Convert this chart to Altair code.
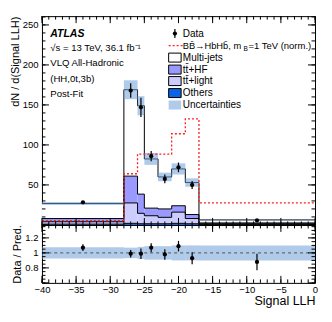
import altair as alt
import pandas as pd

# ---------------- data ----------------
edges = [-40, -28, -26, -25, -23, -21, -19, -17, 0]
others = [1.0, 2.0, 1.5, 1.5, 1.5, 2.0, 1.5, 0.4]
ttlight = [3.0, 25.5, 13.0, 10.0, 8.0, 14.0, 6.5, 1.1]
tthf = [4.0, 33.5, 24.0, 9.5, 10.5, 8.0, 5.0, 1.0]
multijet = [18.8, 108.0, 110.5, 61.5, 40.0, 46.0, 40.0, 3.8]
data_vals = [28.3, 168.0, 147.0, 86.0, 57.5, 72.0, 50.0, 5.7]
data_err = [1.5, 9.0, 12.0, 6.5, 5.5, 6.0, 5.0, 0.6]
signal = [5.4, 64.0, 88.5, 88.5, 88.5, 114.0, 132.5, 27.5]
ratio_vals = [1.07, 0.99, 0.99, 1.07, 0.98, 1.09, 0.93, 0.88]
ratio_err = [0.045, 0.05, 0.07, 0.06, 0.07, 0.07, 0.08, 0.11]
unc_rel = [0.075, 0.07, 0.08, 0.09, 0.09, 0.10, 0.10, 0.10]

x_major = list(range(-40, 1, 5))
x_minor = list(range(-40, 1, 1))
y_labels = [50, 100, 150, 200, 250]
y_major = list(range(0, 251, 50))
y_minor = list(range(0, 261, 10))
r_labels = [0.8, 1.0, 1.2]
r_major = [0.6, 0.8, 1.0, 1.2]
r_minor = [round(0.6 + 0.05 * i, 2) for i in range(16)]

comp_names = ["Others", "ttlight", "tthf", "Multi-jets"]
comp_colors = ["#0a64e6", "#ccccff", "#9999ff", "#ffffff"]

FONT = "Liberation Sans"
W = 273.3
H_MAIN = 209
H_RAT = 58
X_DOM = [-40, 0]
Y_MAIN = [0, 261]
Y_RAT = [0.6, 1.373]
BAND = "#6f9fd8"

lo = edges[:-1]
hi = edges[1:]
centers = [(a + b) / 2 for a, b in zip(lo, hi)]
nb = len(lo)

stack_rows, step_rows = [], []
base = [0.0] * nb
for name, vals in zip(comp_names, [others, ttlight, tthf, multijet]):
    tops = []
    for i in range(nb):
        stack_rows.append(dict(comp=name, lo=lo[i], hi=hi[i], y0=base[i], y1=base[i] + vals[i]))
        base[i] += vals[i]
        tops.append(base[i])
    for i, e in enumerate(edges):
        step_rows.append(dict(comp=name, x=e, y=tops[min(i, nb - 1)]))
total = base
stack_df = pd.DataFrame(stack_rows)
step_df = pd.DataFrame(step_rows)
band_df = pd.DataFrame(dict(lo=lo, hi=hi,
                            y0=[t * (1 - u) for t, u in zip(total, unc_rel)],
                            y1=[t * (1 + u) for t, u in zip(total, unc_rel)]))
sig_df = pd.DataFrame(dict(x=edges, y=signal + [signal[-1]]))
dat_df = pd.DataFrame(dict(x=centers, y=data_vals,
                           ylo=[v - e for v, e in zip(data_vals, data_err)],
                           yhi=[v + e for v, e in zip(data_vals, data_err)]))
rat_df = pd.DataFrame(dict(x=centers, y=ratio_vals,
                           ylo=[v - e for v, e in zip(ratio_vals, ratio_err)],
                           yhi=[v + e for v, e in zip(ratio_vals, ratio_err)]))
rband_df = pd.DataFrame(dict(lo=lo, hi=hi, y0=[1 - u for u in unc_rel], y1=[1 + u for u in unc_rel]))

xs = alt.Scale(domain=X_DOM, nice=False, zero=False)
ys = alt.Scale(domain=Y_MAIN, nice=False, zero=False)
yr = alt.Scale(domain=Y_RAT, nice=False, zero=False)
ONE = pd.DataFrame(dict(a=[0]))

AX_Y_MAIN = alt.Axis(values=y_labels, ticks=False, domain=False, grid=False, format="d",
                     title="dN / d(Signal LLH)", titleAnchor="end", titlePadding=2, labelPadding=4,
                     labelFont=FONT, labelFontSize=9.5, labelColor="black", titleFont=FONT,
                     titleFontSize=11, titleFontWeight="normal", titleColor="black")
AX_Y_RAT = alt.Axis(values=r_labels, ticks=False, domain=False, grid=False, format="~g",
                    title="Data / Pred.", titlePadding=2, labelPadding=4,
                    labelFont=FONT, labelFontSize=9.5, labelColor="black", titleFont=FONT,
                    titleFontSize=11, titleFontWeight="normal", titleColor="black")
AX_X_RAT = alt.Axis(values=x_major, ticks=False, domain=False, grid=False, format="d",
                    title="Signal LLH", titleAnchor="end", titlePadding=1, labelPadding=1.5,
                    labelFont=FONT, labelFontSize=9.5, labelColor="black", titleFont=FONT,
                    titleFontSize=12.5, titleFontWeight="normal", titleColor="black",
                    labelFlush=False)


def ticks(values, channel, side, size, scale, height, axis):
    """Inward ROOT-style ticks drawn through the chart's own scales."""
    df = pd.DataFrame(dict(v=values))
    m = alt.Chart(df).mark_rule(color="black", strokeWidth=1)
    if channel == "x":
        yv = height if side == "bottom" else 0
        y2v = height - size if side == "bottom" else size
        return m.encode(x=alt.X("v:Q", scale=scale, axis=axis), y=alt.value(yv), y2=alt.value(y2v))
    xv = 0 if side == "left" else W
    x2v = size if side == "left" else W - size
    return m.encode(y=alt.Y("v:Q", scale=scale, axis=axis), x=alt.value(xv), x2=alt.value(x2v))


def txt(px, py, t, size=9.6, align="left", **props):
    return alt.Chart(ONE).mark_text(align=align, baseline="middle", font=FONT, color="black",
                                    fontSize=size, x=px, y=py, text=t, **props)


# ---------------- main panel ----------------
fills = alt.Chart(stack_df).mark_rect(strokeWidth=0).encode(
    x=alt.X("lo:Q", scale=xs, axis=None), x2="hi:Q",
    y=alt.Y("y0:Q", scale=ys, axis=AX_Y_MAIN), y2="y1:Q",
    color=alt.Color("comp:N", scale=alt.Scale(domain=comp_names, range=comp_colors), legend=None))
outlines = alt.Chart(step_df).mark_line(interpolate="step-after", color="black", strokeWidth=1).encode(
    x=alt.X("x:Q", scale=xs, axis=None), y=alt.Y("y:Q", scale=ys, axis=AX_Y_MAIN), detail="comp:N")
band = alt.Chart(band_df).mark_rect(color=BAND, opacity=0.55, strokeWidth=0).encode(
    x=alt.X("lo:Q", scale=xs, axis=None), x2="hi:Q",
    y=alt.Y("y0:Q", scale=ys, axis=AX_Y_MAIN), y2="y1:Q")
sig = alt.Chart(sig_df).mark_line(interpolate="step-after", color="#ff2020", strokeWidth=1.3,
                                  strokeDash=[2, 2]).encode(
    x=alt.X("x:Q", scale=xs, axis=None), y=alt.Y("y:Q", scale=ys, axis=AX_Y_MAIN))
derr = alt.Chart(dat_df).mark_rule(color="black", strokeWidth=1.2).encode(
    x=alt.X("x:Q", scale=xs, axis=None), y=alt.Y("ylo:Q", scale=ys, axis=AX_Y_MAIN), y2="yhi:Q")
dpts = alt.Chart(dat_df).mark_point(filled=True, color="black", size=18, opacity=1, shape="circle").encode(
    x=alt.X("x:Q", scale=xs, axis=None), y=alt.Y("y:Q", scale=ys, axis=AX_Y_MAIN))

annot = [
    txt(8.3, 18, "ATLAS", 10.5, fontWeight="bold", fontStyle="italic"),
    txt(8.3, 32, "\u221as = 13 TeV, 36.1 fb\u207b\u00b9"),
    txt(8.3, 47, "VLQ All-Hadronic"),
    txt(8.3, 63, "(HH,0t,3b)"),
    txt(8.3, 78, "Post-Fit"),
]

LX0, LX1, LT = 126.8, 139.3, 141
RIGHT = 269.5
rows_y = [17.5, 29.5, 41.5, 53.5, 65, 77, 89]
legend = [
    txt(LT, rows_y[0], "Data", 10),
    txt(LT, rows_y[1], "BB\u0304\u2192HbHb\u0304, m", 9.3),
    txt(RIGHT - 63.5, rows_y[1] + 3, "B", 6.5, align="right"),
    txt(RIGHT, rows_y[1], "=1 TeV (norm.)", 9.5, align="right"),
    txt(LT, rows_y[2], "Multi-jets", 10),
    txt(LT, rows_y[3], "tt\u0304+HF", 10),
    txt(LT, rows_y[4], "tt\u0304+light", 10),
    txt(LT, rows_y[5], "Others", 10),
    txt(LT, rows_y[6], "Uncertainties", 10),
]
for r, col in zip(rows_y[2:6], ["#ffffff", "#9999ff", "#ccccff", "#0a64e6"]):
    legend.append(alt.Chart(ONE).mark_rect(x=LX0, x2=LX1, y=r - 4.5, y2=r + 4.5, fill=col,
                                           stroke="black", strokeWidth=1))
legend.append(alt.Chart(ONE).mark_rect(x=LX0, x2=LX1, y=rows_y[6] - 4.5, y2=rows_y[6] + 4.5,
                                       fill=BAND, opacity=0.55))
legend.append(alt.Chart(ONE).mark_rule(color="#ff2020", strokeWidth=1.3, strokeDash=[2, 2]).encode(
    x=alt.value(LX0), x2=alt.value(LX1 + 2), y=alt.value(rows_y[1])))
legend.append(alt.Chart(ONE).mark_rule(color="black", strokeWidth=1.2).encode(
    x=alt.value((LX0 + LX1) / 2), y=alt.value(rows_y[0] - 4.5), y2=alt.value(rows_y[0] + 4.5)))
legend.append(alt.Chart(ONE).mark_point(filled=True, color="black", size=18, opacity=1,
                                        x=(LX0 + LX1) / 2, y=rows_y[0]))

main_ticks = [
    ticks(y_major, "y", "left", 7, ys, H_MAIN, AX_Y_MAIN),
    ticks(y_minor, "y", "left", 3.5, ys, H_MAIN, AX_Y_MAIN),
    ticks(y_major, "y", "right", 7, ys, H_MAIN, AX_Y_MAIN),
    ticks(y_minor, "y", "right", 3.5, ys, H_MAIN, AX_Y_MAIN),
    ticks(x_major, "x", "bottom", 7, xs, H_MAIN, None),
    ticks(x_minor, "x", "bottom", 3.5, xs, H_MAIN, None),
    ticks(x_major, "x", "top", 7, xs, H_MAIN, None),
    ticks(x_minor, "x", "top", 3.5, xs, H_MAIN, None),
]

main = alt.layer(fills, outlines, band, sig, derr, dpts, *annot, *legend, *main_ticks).properties(
    width=W, height=H_MAIN)

# ---------------- ratio panel ----------------
rband = alt.Chart(rband_df).mark_rect(color=BAND, opacity=0.55, strokeWidth=0).encode(
    x=alt.X("lo:Q", scale=xs, axis=AX_X_RAT), x2="hi:Q",
    y=alt.Y("y0:Q", scale=yr, axis=AX_Y_RAT), y2="y1:Q")
one_df = pd.DataFrame(dict(y=[1.0]))
oneline = alt.Chart(one_df).mark_rule(color="#555555", strokeWidth=1, strokeDash=[3, 3]).encode(
    y=alt.Y("y:Q", scale=yr, axis=AX_Y_RAT))
rerr = alt.Chart(rat_df).mark_rule(color="black", strokeWidth=1.2).encode(
    x=alt.X("x:Q", scale=xs, axis=AX_X_RAT), y=alt.Y("ylo:Q", scale=yr, axis=AX_Y_RAT), y2="yhi:Q")
rpts = alt.Chart(rat_df).mark_point(filled=True, color="black", size=18, opacity=1).encode(
    x=alt.X("x:Q", scale=xs, axis=AX_X_RAT), y=alt.Y("y:Q", scale=yr, axis=AX_Y_RAT))

rat_ticks = [
    ticks(r_major, "y", "left", 7, yr, H_RAT, AX_Y_RAT),
    ticks(r_minor, "y", "left", 3.5, yr, H_RAT, AX_Y_RAT),
    ticks(r_major, "y", "right", 7, yr, H_RAT, AX_Y_RAT),
    ticks(r_minor, "y", "right", 3.5, yr, H_RAT, AX_Y_RAT),
    ticks(x_major, "x", "bottom", 7, xs, H_RAT, AX_X_RAT),
    ticks(x_minor, "x", "bottom", 3.5, xs, H_RAT, AX_X_RAT),
    ticks(x_major, "x", "top", 7, xs, H_RAT, AX_X_RAT),
    ticks(x_minor, "x", "top", 3.5, xs, H_RAT, AX_X_RAT),
]
ratio = alt.layer(rband, oneline, rerr, rpts, *rat_ticks).properties(width=W, height=H_RAT)

chart = alt.vconcat(main, ratio, spacing=0, bounds="flush").properties(
    padding={"left": 0, "top": 7, "right": 5, "bottom": 0}
).configure_view(stroke="black", strokeWidth=1)

chart.save("out.html", embed_options={"renderer": "svg", "actions": False})
